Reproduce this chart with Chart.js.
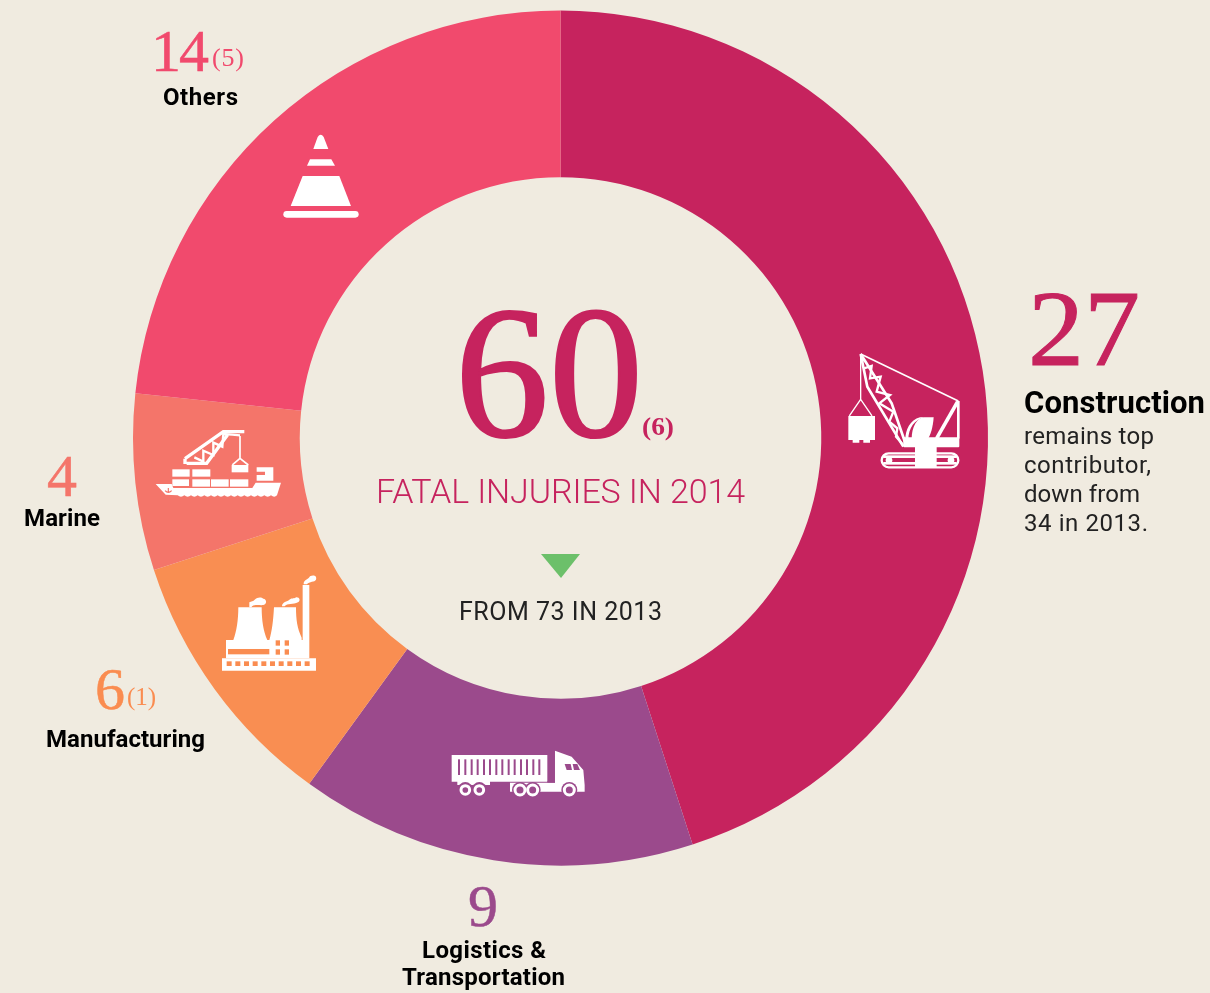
<!DOCTYPE html>
<html><head><meta charset="utf-8">
<script src="https://cdn.jsdelivr.net/npm/chart.js@4"></script>
<style>
html,body{margin:0;padding:0;background:#f0ebe0;width:1210px;height:993px;overflow:hidden}
#wrap{position:relative;width:1210px;height:993px}
canvas{position:absolute;left:0;top:0}
svg{position:absolute;left:0;top:0}
.s{font-family:"Liberation Serif",serif}
.b{font-family:Roboto,sans-serif;font-weight:700;fill:#000}
.r{font-family:Roboto,sans-serif;font-weight:400;fill:#222}
</style></head><body><div id="wrap"><canvas id="c" width="1210" height="993"></canvas>
<svg width="1210" height="993" viewBox="0 0 1210 993">
<text class="s" x="455" y="436" font-size="188" textLength="188" lengthAdjust="spacingAndGlyphs" fill="#c6235e" stroke="#c6235e" stroke-width="2.2">60</text>
<text class="s" x="642" y="435" font-size="25" textLength="32" lengthAdjust="spacingAndGlyphs" font-weight="700" fill="#c6235e">(6)</text>
<text x="376" y="503" font-size="34" textLength="369" font-family="Roboto" font-weight="300" fill="#c6235e">FATAL INJURIES IN 2014</text>
<polygon points="541,554 580,554 561,578" fill="#6cc06a"/>
<text class="r" x="459" y="620" font-size="25" textLength="203">FROM 73 IN 2013</text>

<text class="s" x="1028" y="365" font-size="107" textLength="112" lengthAdjust="spacingAndGlyphs" fill="#c6235e" stroke="#c6235e" stroke-width="1">27</text>
<text class="b" x="1024" y="413" font-size="31" textLength="181">Construction</text>
<text class="r" x="1024" y="444" font-size="24" textLength="130">remains top</text>
<text class="r" x="1024" y="473" font-size="24" textLength="127">contributor,</text>
<text class="r" x="1024" y="502" font-size="24" textLength="116">down from</text>
<text class="r" x="1024" y="531" font-size="24" textLength="124">34 in 2013.</text>

<text class="s" x="483" y="926" text-anchor="middle" font-size="60" fill="#9b4a8c" stroke="#9b4a8c" stroke-width=".5">9</text>
<text class="b" x="422" y="958" font-size="24" textLength="124">Logistics &amp;</text>
<text class="b" x="402" y="985" font-size="24" textLength="163">Transportation</text>

<text class="s" x="95" y="709" font-size="60" fill="#fa8c50" stroke="#fa8c50" stroke-width=".5">6</text>
<text class="s" x="127" y="705" font-size="25" textLength="29" fill="#fa8c50">(1)</text>
<text class="b" x="46" y="747" font-size="24" textLength="159">Manufacturing</text>

<text class="s" x="62" y="496" text-anchor="middle" font-size="60" fill="#f4756a" stroke="#f4756a" stroke-width=".5">4</text>
<text class="b" x="24" y="526" font-size="24" textLength="76">Marine</text>

<text class="s" x="151" y="71" font-size="60" textLength="58" fill="#f14a6d" stroke="#f14a6d" stroke-width=".5">14</text>
<text class="s" x="212" y="66" font-size="26" textLength="32" fill="#f14a6d">(5)</text>
<text class="b" x="163" y="105" font-size="24" textLength="75">Others</text>

<!-- crane -->
<g transform="translate(840,340) scale(.3333)" fill="#fff" stroke="none">
<g fill="none" stroke="#fff">
<path stroke-width="5" d="M62,42 L355,183"/>
<path stroke-width="4" d="M62,42 V180 M62,178 L28,228 M62,178 L96,228"/>
<path stroke-width="8" d="M62,42 L82,140 L190,320 M62,42 L155,190 L198,315"/>
<path stroke-width="7" d="M72,85 L95,78 L90,115 L122,110 L110,155 L150,165 L118,190 L160,215 L148,245 L172,265 L168,290 L190,315"/>
<path stroke-width="11" d="M353,185 L290,295"/>
<path stroke-width="8" d="M355,183 V295"/>
<rect x="125" y="340" width="230" height="42" rx="21" stroke-width="7"/>
</g>
<path d="M25,228 H105 V300 H90 V308 H70 V300 H58 V308 H38 V300 H25Z"/>
<path d="M215,295 C215,262 232,232 252,232 H281 C279,262 272,285 262,300 Z"/>
<path d="M196,300 C196,270 210,240 240,232 H252 C225,240 205,262 205,300Z"/>
<rect x="190" y="292" width="168" height="30" rx="3"/>
<rect x="225" y="320" width="65" height="62"/>
<rect x="130" y="346" width="220" height="8"/><rect x="130" y="366" width="220" height="8"/>
<circle cx="147" cy="361" r="10"/><circle cx="333" cy="361" r="10"/>
</g>
<!-- ship -->
<g transform="translate(145,420) scale(.3333)" fill="#fff" stroke="none">
<path d="M32,192 H80 L85,204 H322 L332,188 H408 L396,226 Q388,234 378,226 Q368,234 358,226 Q348,234 338,226 Q328,234 318,226 Q308,234 298,226 Q288,234 278,226 Q268,234 258,226 Q248,234 238,226 Q228,234 218,226 Q208,234 198,226 Q188,234 178,226 Q168,234 158,226 Q148,234 138,226 Q128,234 118,226 Q108,234 98,226 L62,224Z"/>
<rect x="82" y="148" width="52" height="22"/><rect x="142" y="148" width="54" height="22"/>
<rect x="82" y="178" width="50" height="20"/><rect x="142" y="178" width="53" height="22"/><rect x="198" y="178" width="53" height="22"/><rect x="255" y="178" width="55" height="22"/>
<path d="M335,142 H385 V182 H335 V165 H360 V155 H335Z"/>
<path d="M260,135 H310 V157 H260Z"/>
<g fill="none" stroke="#fff">
<path stroke-width="10" d="M120,116 L235,35 H298 M125,130 L185,130 L248,44 M120,116 V132"/>
<path stroke-width="7" d="M148,112 L175,125 L175,92 L205,105 L205,68 L232,80 L235,42 L262,44 L285,46"/>
<path stroke-width="5" d="M285,48 V115 M285,115 L262,135 M285,115 L310,135"/>
</g>
<path d="M70,204 V218 M60,212 Q70,222 80,212" stroke="#f4756a" stroke-width="3.5" fill="none"/>
</g>
<!-- factory -->
<g transform="translate(210,565) scale(.3333)" fill="#fff" stroke="none">
<path d="M36,280 H318 V317 H36Z"/><path d="M48,225 H70 C80,200 85,165 85,127 H155 C155,165 160,200 172,225 H178 C186,200 190,165 192,127 H258 C258,165 262,190 275,218 V225 H278 V60 H298 V280 H305 V280 H48Z"/>
<g fill="#fa8c50">
<rect x="54" y="252" width="124" height="16"/>
<rect x="197" y="226" width="13" height="16"/><rect x="224" y="226" width="13" height="16"/><rect x="197" y="253" width="13" height="16"/><rect x="224" y="253" width="13" height="16"/>
<rect x="50" y="289" width="15" height="14"/><rect x="76" y="289" width="15" height="14"/><rect x="102" y="289" width="15" height="14"/><rect x="128" y="289" width="15" height="14"/><rect x="154" y="289" width="15" height="14"/><rect x="180" y="289" width="15" height="14"/><rect x="206" y="289" width="15" height="14"/><rect x="232" y="289" width="15" height="14"/><rect x="258" y="289" width="15" height="14"/><rect x="284" y="289" width="15" height="14"/>
</g>
<path d="M118,127 V112 C124,108 130,110 134,104 C142,96 154,96 160,101 C170,102 172,116 160,120 C150,122 130,116 124,127Z"/>
<path d="M216,124 C216,110 232,110 238,104 C248,98 254,102 258,97 C270,96 272,108 264,112 C250,120 232,114 224,124Z"/>
<path d="M281,58 C280,44 296,44 300,34 C310,28 322,32 318,44 C314,52 298,48 291,58Z"/>
</g>
<!-- truck -->
<g transform="translate(440,740) scale(.3333)" fill="#fff" stroke="none">
<path d="M35,45 H322 V125 H150 V135 H52 V125 H35Z"/>
<path d="M210,128 H345 V32 L395,50 L430,90 L434,135 L434,155 H210Z"/>
<g fill="#9b4a8c">
<rect x="54" y="58" width="6" height="47"/><rect x="73" y="58" width="6" height="47"/><rect x="92" y="58" width="6" height="47"/><rect x="110" y="58" width="6" height="47"/><rect x="129" y="58" width="6" height="47"/><rect x="147" y="58" width="6" height="47"/><rect x="166" y="58" width="6" height="47"/><rect x="184" y="58" width="6" height="47"/><rect x="203" y="58" width="6" height="47"/><rect x="221" y="58" width="6" height="47"/><rect x="240" y="58" width="6" height="47"/><rect x="258" y="58" width="6" height="47"/><rect x="277" y="58" width="6" height="47"/><rect x="295" y="58" width="6" height="47"/>
<path d="M374,72 H392 L396,90 H380Z"/><path d="M398,72 H412 L420,90 H402Z"/>
<rect x="322" y="124" width="23" height="4"/>
<circle cx="240" cy="150" r="24"/><circle cx="278" cy="150" r="24"/><circle cx="388" cy="150" r="24"/>
<circle cx="76" cy="148" r="22"/><circle cx="118" cy="148" r="22"/>
</g>
<g fill="none" stroke="#fff" stroke-width="9">
<circle cx="240" cy="150" r="15"/><circle cx="278" cy="150" r="15"/><circle cx="388" cy="150" r="15"/><circle cx="76" cy="150" r="13"/><circle cx="118" cy="150" r="13"/>
</g>
</g>
<!-- cone -->
<g transform="translate(270,125) scale(.3333)" fill="#fff" stroke="none">
<path d="M130,72 H175 L161,36 Q152,22 143,36Z"/>
<path d="M120,103 H184 L195,122 H111Z"/>
<path d="M98,153 H208 L243,243 H62Z"/>
<rect x="40" y="258" width="226" height="20" rx="10"/>
</g>
</svg></div>
<script>
const categories = ["Construction","Logistics & Transportation","Manufacturing","Marine","Others"];
const fatalInjuries = [27,9,6,4,14];
const sliceColors = ["#c6235e","#9b4a8c","#f98e52","#f4756a","#f14a6d"];
new Chart(document.getElementById('c').getContext('2d'),{
 type:'doughnut',
 data:{labels:categories,datasets:[{data:fatalInjuries,backgroundColor:sliceColors,borderWidth:0}]},
 options:{responsive:false,animation:false,cutout:'61%',rotation:0,circumference:360,
  layout:{padding:{left:133,top:10,right:222,bottom:127}},
  plugins:{legend:{display:false},tooltip:{enabled:false},title:{display:false}}}
});
</script></body></html>
